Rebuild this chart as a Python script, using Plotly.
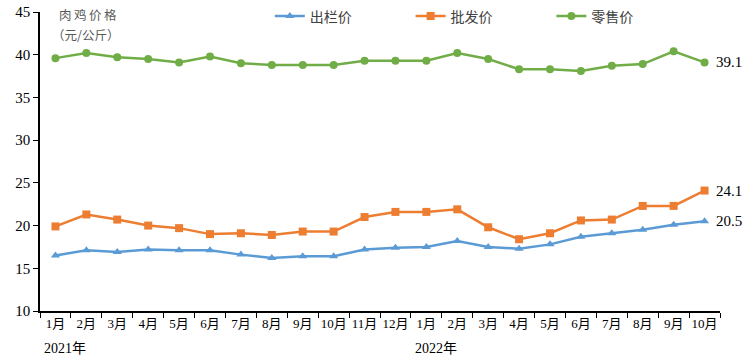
import plotly.graph_objects as go

months = ["1月", "2月", "3月", "4月", "5月", "6月", "7月", "8月", "9月", "10月", "11月", "12月",
          "1月", "2月", "3月", "4月", "5月", "6月", "7月", "8月", "9月", "10月"]
keys = [f"2021-{m:02d}" for m in range(1, 13)] + [f"2022-{m:02d}" for m in range(1, 11)]

chuLan = [16.5, 17.1, 16.9, 17.2, 17.1, 17.1, 16.6, 16.2, 16.4, 16.4, 17.2, 17.4,
          17.5, 18.2, 17.5, 17.3, 17.8, 18.7, 19.1, 19.5, 20.1, 20.5]
piFa = [19.9, 21.3, 20.7, 20.0, 19.7, 19.0, 19.1, 18.9, 19.3, 19.3, 21.0, 21.6,
        21.6, 21.9, 19.8, 18.4, 19.1, 20.6, 20.7, 22.3, 22.3, 24.1]
lingShou = [39.6, 40.2, 39.7, 39.5, 39.1, 39.8, 39.0, 38.8, 38.8, 38.8, 39.3, 39.3,
            39.3, 40.2, 39.5, 38.3, 38.3, 38.1, 38.7, 38.9, 40.4, 39.1]
series_names = ["出栏价", "批发价", "零售价"]
year_labels = ["2021年", "2022年"]
year_keys = ["2021-01", "2022-01"]
unit_lines = ["肉\u2009鸡\u2009价\u2009格", "（元/公斤）"]

font_fam = "Liberation Serif, Noto Sans CJK SC, serif"

fig = go.Figure()
styles = [("#5B9BD5", "triangle-up"), ("#ED7D31", "square"), ("#70AD47", "circle")]
legend_ids = ["legend", "legend2", "legend3"]
for name, vals, (col, sym), lg in zip(series_names, [chuLan, piFa, lingShou], styles, legend_ids):
    fig.add_trace(go.Scatter(
        x=keys, y=vals, name=name, mode="lines+markers",
        line=dict(color=col, width=2.5),
        marker=dict(symbol=sym, size=8, color=col),
        legend=lg,
    ))

# end labels
for vals in [chuLan, piFa, lingShou]:
    fig.add_annotation(x=keys[-1], y=vals[-1], text=f"{vals[-1]:.1f}", showarrow=False,
                       xanchor="left", xshift=9, font=dict(family=font_fam, size=15, color="#000"))

# year labels
for yk, yl in zip(year_keys, year_labels):
    fig.add_annotation(x=yk, y=0, yref="paper", text=yl, showarrow=False,
                       xanchor="left", yanchor="top", xshift=-13, yshift=-28,
                       font=dict(family=font_fam, size=14, color="#000"))

# unit title (two lines)
for txt, px, py in zip(unit_lines, [0.0706, 0.0676], [0.990, 0.9264]):
    fig.add_annotation(x=px, y=py, xref="paper", yref="paper",
                       text=txt, showarrow=False,
                       xanchor="center", yanchor="middle",
                       font=dict(family="Noto Sans CJK SC", size=12.5, color="#595959"))

leg_common = dict(orientation="h", yanchor="middle", y=0.985, xanchor="left",
                  font=dict(family="Noto Sans CJK SC", size=14, color="#404040"),
                  bgcolor="rgba(0,0,0,0)")
fig.update_layout(
    width=750, height=364,
    margin=dict(l=40, r=30, t=12, b=53, autoexpand=False),
    plot_bgcolor="white", paper_bgcolor="white",
    font=dict(family=font_fam, size=14, color="#000"),
    showlegend=True,
    legend=dict(x=0.338, **leg_common),
    legend2=dict(x=0.545, **leg_common),
    legend3=dict(x=0.752, **leg_common),
)
fig.update_xaxes(type="category", tickvals=keys, ticktext=months, tickson="boundaries",
                 range=[-0.5, len(keys) - 0.5],
                 tickangle=0, automargin=False,
                 ticks="outside", ticklen=5, tickcolor="#000", showline=True, linecolor="#000",
                 linewidth=1.5, showgrid=False, tickfont=dict(family=font_fam, size=13))
fig.update_yaxes(range=[10, 45], dtick=5, ticks="outside", ticklen=5, tickcolor="#000",
                 automargin=False, ticklabeloverflow="allow",
                 showline=True, linecolor="#000", linewidth=1.5, showgrid=False,
                 zeroline=False, tickfont=dict(family=font_fam, size=15))

fig.write_html("out.html", config={"displayModeBar": False},
               post_script="document.body.style.margin='0';")
